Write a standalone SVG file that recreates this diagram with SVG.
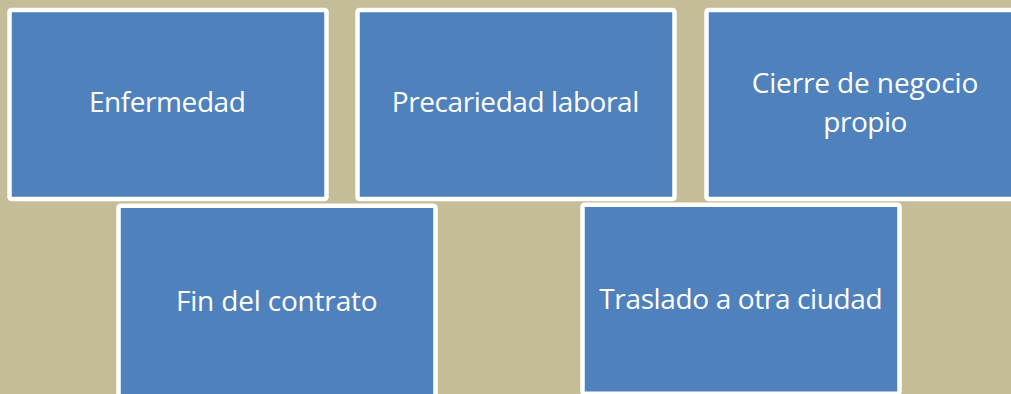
<svg xmlns="http://www.w3.org/2000/svg" width="1011" height="394" viewBox="0 0 1011 394">
<style>
.box{fill:#4f81bd;stroke:#ffffff;stroke-width:4.5}
.lbl{font-family:"Open Sans","Noto Sans","Liberation Sans",sans-serif;font-size:28px;fill:#ffffff;text-anchor:middle}
</style>
<rect x="0" y="0" width="1011" height="394" fill="#c4bd97"/>
<g id="connectors"/>
<g id="node-enfermedad">
<rect class="box" x="9.5" y="10" width="317" height="189" rx="2"/>
<text class="lbl" x="167.4" y="112.3" textLength="157" lengthAdjust="spacing">Enfermedad</text>
</g>
<g id="node-precariedad">
<rect class="box" x="357.5" y="10" width="317" height="189" rx="2"/>
<text class="lbl" x="515.5" y="111.7" textLength="247.6" lengthAdjust="spacing">Precariedad laboral</text>
</g>
<g id="node-cierre">
<rect class="box" x="706.5" y="10" width="317" height="189" rx="2"/>
<text class="lbl" x="865" y="93.3" textLength="226.7" lengthAdjust="spacing">Cierre de negocio</text>
<text class="lbl" x="865.3" y="131.6" textLength="84" lengthAdjust="spacing">propio</text>
</g>
<g id="node-fin">
<rect class="box" x="118.5" y="205.8" width="317" height="192" rx="2"/>
<text class="lbl" x="276.8" y="310.7" textLength="201.7" lengthAdjust="spacing">Fin del contrato</text>
</g>
<g id="node-traslado">
<rect class="box" x="582.5" y="204.8" width="317" height="189" rx="2"/>
<text class="lbl" x="741" y="309" textLength="283.4" lengthAdjust="spacing">Traslado a otra ciudad</text>
</g>
</svg>
